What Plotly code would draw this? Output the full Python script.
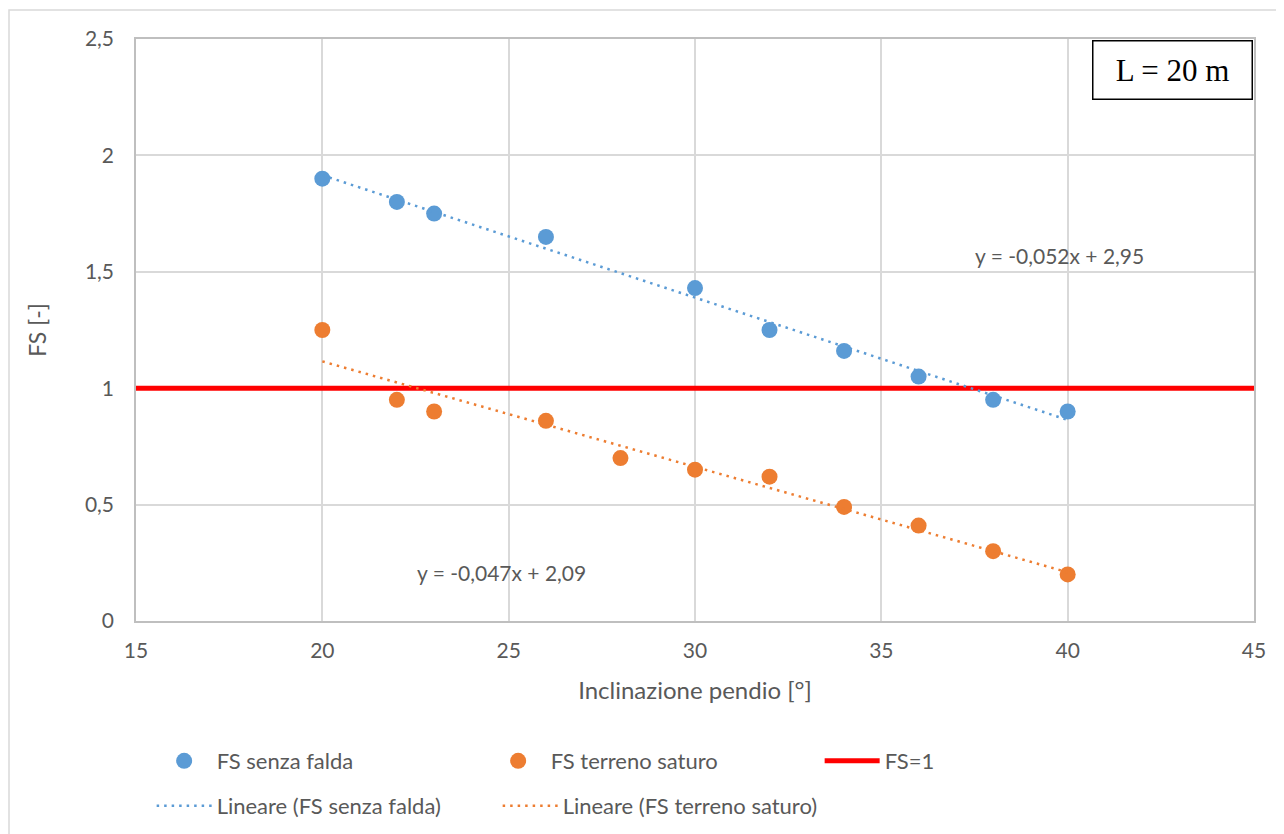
import numpy as np
import plotly.graph_objects as go

# Data
x_senza = [20, 22, 23, 26, 30, 32, 34, 36, 38, 40]
fs_senza = [1.90, 1.80, 1.75, 1.65, 1.43, 1.25, 1.16, 1.05, 0.95, 0.90]
x_saturo = [20, 22, 23, 26, 28, 30, 32, 34, 36, 38, 40]
fs_saturo = [1.25, 0.95, 0.90, 0.86, 0.70, 0.65, 0.62, 0.49, 0.41, 0.30, 0.20]
fs_limit = 1.0
x_range = [15, 45]
y_range = [0, 2.5]
eq_senza = "y = -0,052x + 2,95"
eq_saturo = "y = -0,047x + 2,09"
label_box = "L = 20 m"

BLUE = "#5B9BD5"
ORANGE = "#ED7D31"
FONT = "Lato, Open Sans, sans-serif"
TXT = "#595959"

def trend(xs, ys):
    m, q = np.polyfit(xs, ys, 1)
    xt = np.array([min(xs), max(xs)], dtype=float)
    return xt, m * xt + q

xt1, yt1 = trend(x_senza, fs_senza)
xt2, yt2 = trend(x_saturo, fs_saturo)

fig = go.Figure()
fig.add_trace(go.Scatter(x=x_senza, y=fs_senza, mode="markers", name="FS senza falda",
                         marker=dict(color=BLUE, size=16), legend="legend"))
fig.add_trace(go.Scatter(x=x_saturo, y=fs_saturo, mode="markers", name="FS terreno saturo",
                         marker=dict(color=ORANGE, size=16), legend="legend"))
fig.add_trace(go.Scatter(x=x_range, y=[fs_limit, fs_limit], mode="lines", name="FS=1",
                         line=dict(color="#FF0000", width=5), legend="legend"))
fig.add_trace(go.Scatter(x=xt1, y=yt1, mode="lines", name="Lineare (FS senza falda)",
                         line=dict(color=BLUE, width=2.5, dash="2.5px,5px"), legend="legend2"))
fig.add_trace(go.Scatter(x=xt2, y=yt2, mode="lines", name="Lineare (FS terreno saturo)",
                         line=dict(color=ORANGE, width=2.5, dash="2.5px,5px"), legend="legend2"))

axis_common = dict(showgrid=True, gridcolor="#D9D9D9", gridwidth=1.5, zeroline=False,
                   showline=True, linecolor="#BFBFBF", linewidth=1.5, mirror=True,
                   tickfont=dict(family=FONT, size=21, color=TXT), ticks="")

fig.update_xaxes(range=x_range, dtick=5, tick0=15, title=dict(text="Inclinazione pendio [°]",
                 font=dict(family=FONT, size=24, color=TXT), standoff=21),
                 ticklabelstandoff=10, **axis_common)
fig.update_yaxes(range=y_range, dtick=0.5, tick0=0, title=dict(text="FS [-]",
                 font=dict(family=FONT, size=23, color=TXT), standoff=32),
                 ticklabelstandoff=16, **axis_common)

fig.add_annotation(x=39.77, y=1.572, xref="x", yref="y", text=eq_senza, showarrow=False,
                   xanchor="center", yanchor="middle",
                   font=dict(family=FONT, size=21, color=TXT))
fig.add_annotation(x=24.82, y=0.21, xref="x", yref="y", text=eq_saturo, showarrow=False,
                   xanchor="center", yanchor="middle",
                   font=dict(family=FONT, size=21, color=TXT))
fig.add_annotation(x=(1172 - 136) / 1118, y=1 - (70 - 39) / 582, xref="paper", yref="paper",
                   xanchor="center", yanchor="middle",
                   text=label_box, showarrow=False, bordercolor="black", borderwidth=1.5,
                   borderpad=12, bgcolor="white", width=134, height=33,
                   font=dict(family="Liberation Serif, Times New Roman, serif", size=31, color="black"))

# outer chart border
fig.add_shape(type="rect", xref="paper", yref="paper", x0=(9 - 136) / 1118, y0=-0.5,
              x1=1.2, y1=1 + (39 - 10) / 582, line=dict(color="#D9D9D9", width=1.5), layer="below")

legend_font = dict(family=FONT, size=22, color=TXT)
fig.update_layout(
    width=1284, height=834, separators=",.",
    margin=dict(l=128, r=38, t=31, b=221),
    paper_bgcolor="white", plot_bgcolor="white",
    font=dict(family=FONT, size=21, color=TXT),
    legend=dict(orientation="h", x=0.014, xanchor="left", y=-(761 - 621) / 582, yanchor="middle",
                entrywidth=264, entrywidthmode="pixels", itemwidth=55,
                font=legend_font, traceorder="normal", bgcolor="rgba(0,0,0,0)"),
    legend2=dict(orientation="h", x=0.014, xanchor="left", y=-(806 - 621) / 582, yanchor="middle",
                 entrywidth=276, entrywidthmode="pixels", itemwidth=55,
                 font=legend_font, traceorder="normal", bgcolor="rgba(0,0,0,0)"),
    showlegend=True,
)

fig.write_html("out.html")
